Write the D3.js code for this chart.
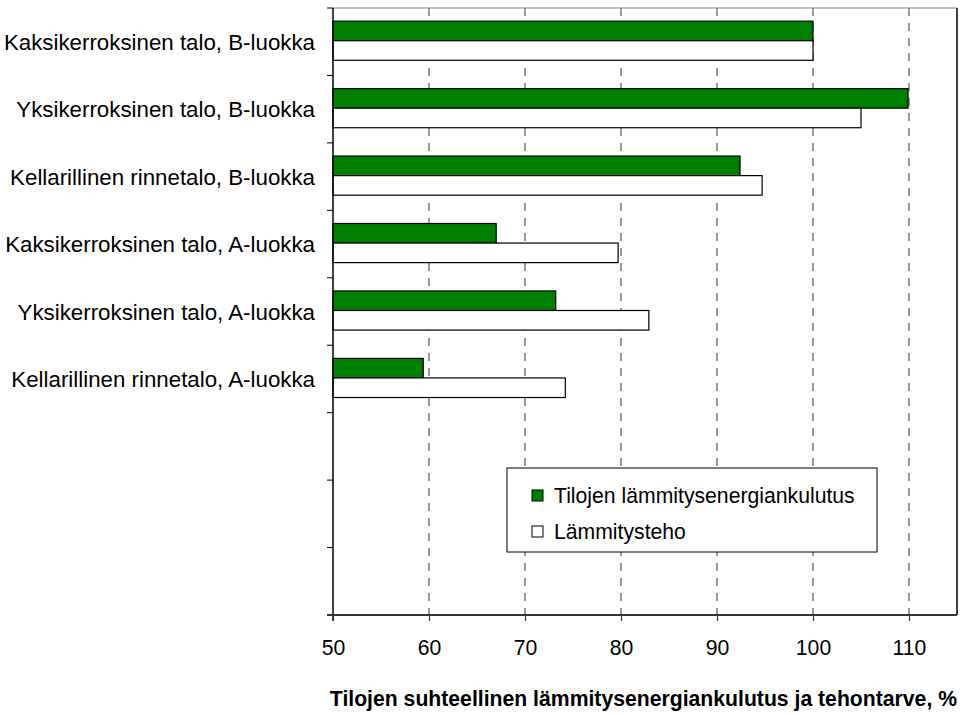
<!DOCTYPE html>
<html>
<head>
<meta charset="utf-8">
<script src="https://cdn.jsdelivr.net/npm/d3@7"></script>
<style>
  html, body { margin: 0; padding: 0; background: #fff; }
  svg { display: block; font-family: Arial, "Liberation Sans", sans-serif; }
</style>
</head>
<body>
<svg id="chart" width="971" height="715"></svg>
<script>
// House types (top to bottom)
const categories = [
  "Kaksikerroksinen talo, B-luokka",
  "Yksikerroksinen talo, B-luokka",
  "Kellarillinen rinnetalo, B-luokka",
  "Kaksikerroksinen talo, A-luokka",
  "Yksikerroksinen talo, A-luokka",
  "Kellarillinen rinnetalo, A-luokka"
];
// Relative space heating energy consumption, %
const energyValues = [100, 109.9, 92.4, 67.0, 73.2, 59.4];
// Relative heating power demand, %
const powerValues = [100, 105.0, 94.7, 79.7, 82.9, 74.2];
// Empty slots below the categories
const emptySlots = ["_e1", "_e2", "_e3"];
const xTicks = [50, 60, 70, 80, 90, 100, 110];
const xDomain = [50, 115];
const seriesNames = ["Tilojen lämmitysenergiankulutus", "Lämmitysteho"];
const seriesColors = ["#008000", "#ffffff"];
const xTitle = "Tilojen suhteellinen lämmitysenergiankulutus ja tehontarve, %";

const svg = d3.select("#chart");
const plot = { left: 333, right: 957, top: 8, bottom: 615 };
const fontSize = 21.2;
const catFontSize = 22.3;

const x = d3.scaleLinear().domain(xDomain).range([plot.left, plot.right]);
const y = d3.scaleBand()
  .domain(categories.concat(emptySlots))
  .range([plot.top, plot.bottom])
  .paddingInner(0.42)
  .paddingOuter(0.21);
const half = y.bandwidth() / 2;

// Plot area frame
svg.append("line")
  .attr("x1", plot.left).attr("x2", plot.right)
  .attr("y1", plot.top).attr("y2", plot.top)
  .attr("stroke", "#808080").attr("stroke-width", 1);
svg.append("line")
  .attr("x1", plot.right).attr("x2", plot.right)
  .attr("y1", plot.top).attr("y2", plot.bottom)
  .attr("stroke", "#000").attr("stroke-width", 1.5);

// Dashed vertical gridlines
svg.append("g")
  .selectAll("line")
  .data(xTicks.filter(t => t > xDomain[0]))
  .join("line")
  .attr("x1", d => x(d)).attr("x2", d => x(d))
  .attr("y1", plot.top).attr("y2", plot.bottom)
  .attr("stroke", "#555")
  .attr("stroke-width", 1.2)
  .attr("stroke-dasharray", "8,7");

// Bars
const rows = categories.map((c, i) => ({ c, e: energyValues[i], p: powerValues[i] }));
const bars = svg.append("g");
bars.selectAll("rect.energy")
  .data(rows)
  .join("rect")
  .attr("class", "energy")
  .attr("x", x(xDomain[0]))
  .attr("y", d => y(d.c) - 1)
  .attr("width", d => x(d.e) - x(xDomain[0]))
  .attr("height", half)
  .attr("fill", seriesColors[0])
  .attr("stroke", "#000")
  .attr("stroke-width", 1.2);
bars.selectAll("rect.power")
  .data(rows)
  .join("rect")
  .attr("class", "power")
  .attr("x", x(xDomain[0]))
  .attr("y", d => y(d.c) + half - 1)
  .attr("width", d => x(d.p) - x(xDomain[0]))
  .attr("height", half)
  .attr("fill", seriesColors[1])
  .attr("stroke", "#000")
  .attr("stroke-width", 1.2);

// Left axis: ticks at category boundaries
const yBoundaries = d3.range(y.domain().length + 1).map(i => plot.top + i * y.step());
const yAxis = svg.append("g");
yAxis.selectAll("line.tick")
  .data(yBoundaries)
  .join("line")
  .attr("class", "tick")
  .attr("x1", plot.left - 6).attr("x2", plot.left)
  .attr("y1", d => d).attr("y2", d => d)
  .attr("stroke", "#000").attr("stroke-width", 1);
yAxis.append("line")
  .attr("x1", plot.left).attr("x2", plot.left)
  .attr("y1", plot.top).attr("y2", plot.bottom + 6)
  .attr("stroke", "#000").attr("stroke-width", 1.5);
yAxis.selectAll("text")
  .data(categories)
  .join("text")
  .attr("x", 315)
  .attr("y", d => y(d) + y.bandwidth() / 2)
  .attr("dy", "0.36em")
  .attr("text-anchor", "end")
  .attr("font-size", catFontSize)
  .attr("fill", "#000")
  .text(d => d);

// Bottom axis
const xAxis = svg.append("g")
  .attr("transform", `translate(0,${plot.bottom})`)
  .call(d3.axisBottom(x).tickValues(xTicks).tickSize(6).tickPadding(19).tickFormat(d3.format("d")));
xAxis.select(".domain")
  .attr("d", `M${plot.left - 6},0H${plot.right}`)
  .attr("stroke", "#333").attr("stroke-width", 2);
xAxis.selectAll(".tick line").attr("stroke", "#333").attr("stroke-width", 1.2);
xAxis.selectAll(".tick text")
  .attr("font-size", fontSize)
  .attr("font-family", "Arial, 'Liberation Sans', sans-serif")
  .attr("fill", "#000");

// Axis title
svg.append("text")
  .attr("x", plot.right)
  .attr("y", 698)
  .attr("dy", "0.36em")
  .attr("text-anchor", "end")
  .attr("font-size", fontSize)
  .attr("font-weight", "bold")
  .attr("fill", "#000")
  .text(xTitle);

// Legend
const legend = svg.append("g").attr("transform", "translate(507,468)");
legend.append("rect")
  .attr("width", 370).attr("height", 84)
  .attr("fill", "#fff").attr("stroke", "#000").attr("stroke-width", 1);
const items = legend.selectAll("g.item")
  .data(seriesNames)
  .join("g")
  .attr("class", "item")
  .attr("transform", (d, i) => `translate(25,${27.5 + i * 36})`);
items.append("rect")
  .attr("x", 0).attr("y", -5.5)
  .attr("width", 11).attr("height", 11)
  .attr("fill", (d, i) => seriesColors[i])
  .attr("stroke", "#000").attr("stroke-width", 1);
items.append("text")
  .attr("x", 22)
  .attr("dy", "0.36em")
  .attr("font-size", fontSize)
  .attr("fill", "#000")
  .text(d => d);
</script>
</body>
</html>
